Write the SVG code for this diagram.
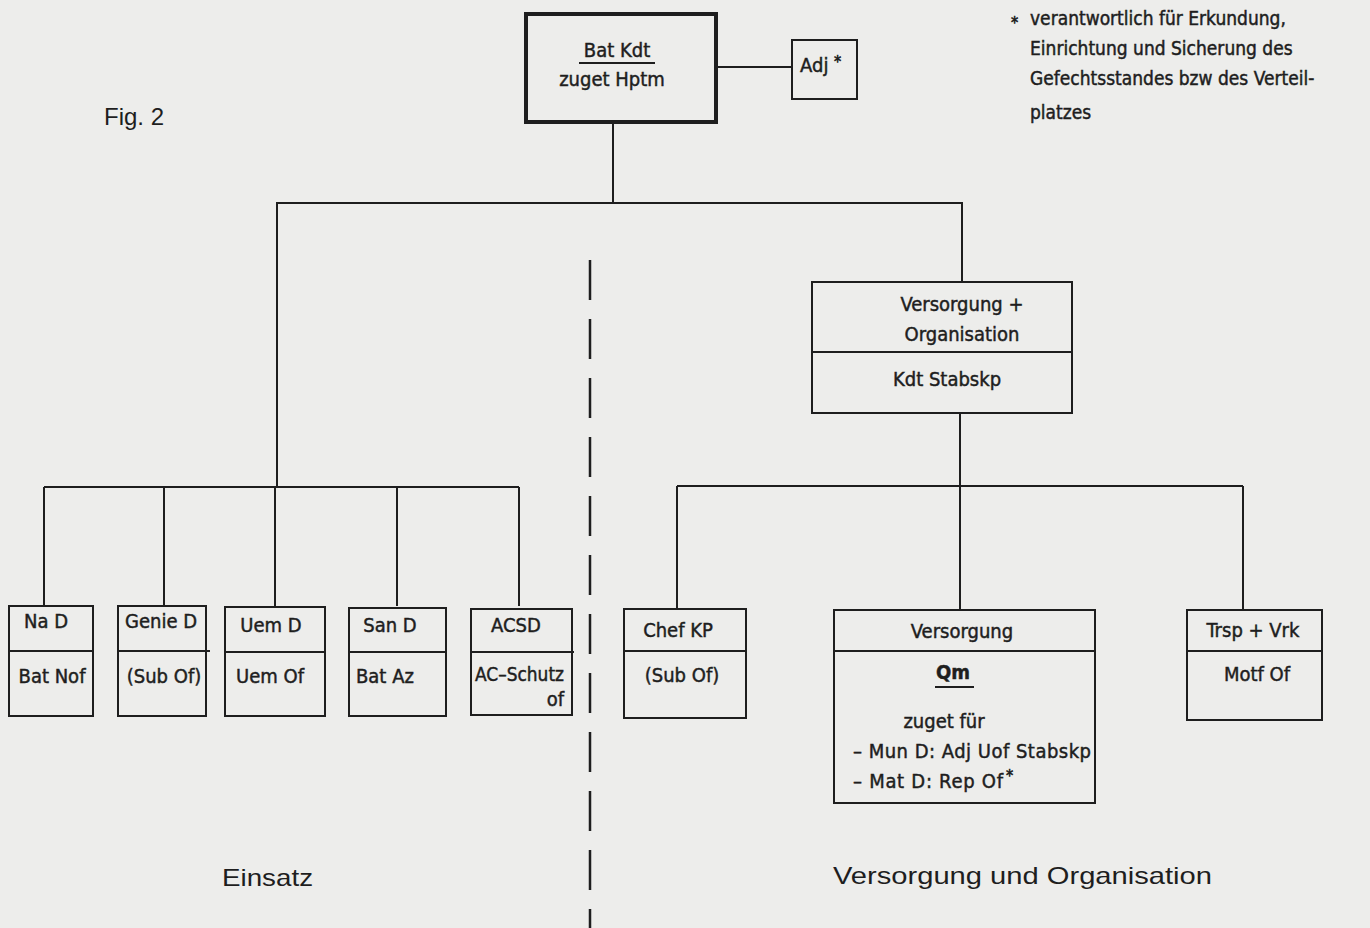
<svg xmlns="http://www.w3.org/2000/svg" width="1370" height="928" viewBox="0 0 1370 928">
<style>
.bx{fill:none;stroke:#1e1e1e;stroke-width:2}
.ln{fill:none;stroke:#1e1e1e;stroke-width:2}
.t{font-family:"DejaVu Sans Condensed","DejaVu Sans",sans-serif;font-stretch:condensed;font-size:20px;fill:#1e1e1e;stroke:#1e1e1e;stroke-width:0.45}
.f{font-size:19px}
.c{text-anchor:middle}
.s{font-size:16px;stroke-width:0.6}
.h{font-family:"Liberation Sans",Arial,sans-serif;font-size:24px;fill:#1e1e1e}
</style>
<rect x="0" y="0" width="1370" height="928" fill="#ededeb"/>
<text class="h" x="104" y="125">Fig. 2</text>
<g id="footnote">
<text class="t s" x="1011" y="28">*</text>
<text class="t f" x="1030" y="25">verantwortlich für Erkundung,</text>
<text class="t f" x="1030" y="55">Einrichtung und Sicherung des</text>
<text class="t f" x="1030" y="85">Gefechtsstandes bzw des Verteil-</text>
<text class="t f" x="1030" y="119">platzes</text>
</g>
<g id="connectors">
<line class="ln" x1="717" y1="67" x2="792" y2="67"/>
<line class="ln" x1="613" y1="123" x2="613" y2="203"/>
<polyline class="ln" points="277,487 277,203 962,203 962,282"/>
<line class="ln" x1="44" y1="487" x2="519" y2="487"/>
<line class="ln" x1="44" y1="487" x2="44" y2="606"/>
<line class="ln" x1="164" y1="487" x2="164" y2="606"/>
<line class="ln" x1="275" y1="487" x2="275" y2="606"/>
<line class="ln" x1="397" y1="487" x2="397" y2="606"/>
<line class="ln" x1="519" y1="487" x2="519" y2="606"/>
<line class="ln" x1="960" y1="413" x2="960" y2="486"/>
<line class="ln" x1="677" y1="486" x2="1243" y2="486"/>
<line class="ln" x1="677" y1="486" x2="677" y2="609"/>
<line class="ln" x1="960" y1="486" x2="960" y2="609"/>
<line class="ln" x1="1243" y1="486" x2="1243" y2="609"/>
<line x1="590" y1="260" x2="590" y2="928" stroke="#1e1e1e" stroke-width="2.5" stroke-dasharray="40 19"/>
</g>
<g id="bat-kdt">
<rect x="526" y="14" width="190" height="108" fill="none" stroke="#1e1e1e" stroke-width="4"/>
<text class="t c" x="617" y="57">Bat Kdt</text>
<line class="ln" x1="579" y1="63" x2="655" y2="63"/>
<text class="t c" x="612" y="86">zuget Hptm</text>
</g>
<g id="adj">
<rect class="bx" x="792" y="40" width="65" height="59"/>
<text class="t" x="800" y="72">Adj</text>
<text class="t s" x="834" y="67">*</text>
</g>
<g id="vo">
<rect class="bx" x="812" y="282" width="260" height="131"/>
<line class="ln" x1="812" y1="352" x2="1072" y2="352"/>
<text class="t c" x="962" y="311">Versorgung +</text>
<text class="t c" x="962" y="341">Organisation</text>
<text class="t c" x="947" y="386">Kdt Stabskp</text>
</g>
<g id="na-d">
<rect class="bx" x="9" y="606" width="84" height="110"/>
<line class="ln" x1="9" y1="651" x2="93" y2="651"/>
<text class="t c" x="46" y="628">Na D</text>
<text class="t c" x="52" y="683">Bat Nof</text>
</g>
<g id="genie-d">
<rect class="bx" x="118" y="606" width="88" height="110"/>
<line class="ln" x1="118" y1="651" x2="210" y2="651"/>
<text class="t c" x="161" y="628">Genie D</text>
<text class="t c" x="164" y="683">(Sub Of)</text>
</g>
<g id="uem-d">
<rect class="bx" x="225" y="607" width="100" height="109"/>
<line class="ln" x1="225" y1="652" x2="325" y2="652"/>
<text class="t c" x="271" y="632">Uem D</text>
<text class="t" x="236" y="683">Uem Of</text>
</g>
<g id="san-d">
<rect class="bx" x="349" y="608" width="97" height="108"/>
<line class="ln" x1="349" y1="652" x2="446" y2="652"/>
<text class="t c" x="390" y="632">San D</text>
<text class="t" x="356" y="683">Bat Az</text>
</g>
<g id="acsd">
<rect class="bx" x="471" y="609" width="101" height="106"/>
<line class="ln" x1="471" y1="652" x2="574" y2="652"/>
<text class="t c" x="516" y="632">ACSD</text>
<text class="t" x="475" y="681" font-size="19" textLength="89" lengthAdjust="spacingAndGlyphs">AC–Schutz</text>
<text class="t" x="564" y="706" font-size="19" text-anchor="end">of</text>
</g>
<g id="chef-kp">
<rect class="bx" x="624" y="609" width="122" height="109"/>
<line class="ln" x1="624" y1="651" x2="746" y2="651"/>
<text class="t c" x="678" y="637">Chef KP</text>
<text class="t c" x="682" y="682">(Sub Of)</text>
</g>
<g id="versorgung">
<rect class="bx" x="834" y="610" width="261" height="193"/>
<line class="ln" x1="834" y1="651" x2="1095" y2="651"/>
<text class="t c" x="962" y="638">Versorgung</text>
<text class="t c" x="953" y="679" font-weight="bold">Qm</text>
<line class="ln" x1="935" y1="687" x2="974" y2="687"/>
<text class="t c" x="944" y="728">zuget für</text>
<text class="t" x="853" y="758" textLength="238" lengthAdjust="spacing">– Mun D: Adj Uof Stabskp</text>
<text class="t" x="853" y="788" textLength="150" lengthAdjust="spacing">– Mat D: Rep Of</text>
<text class="t s" x="1006" y="781">*</text>
</g>
<g id="trsp">
<rect class="bx" x="1187" y="610" width="135" height="110"/>
<line class="ln" x1="1187" y1="651" x2="1322" y2="651"/>
<text class="t c" x="1253" y="637">Trsp + Vrk</text>
<text class="t c" x="1257" y="681">Motf Of</text>
</g>
<text class="h" x="222" y="886" textLength="91" lengthAdjust="spacingAndGlyphs">Einsatz</text>
<text class="h" x="833" y="884" textLength="379" lengthAdjust="spacingAndGlyphs">Versorgung und Organisation</text>
</svg>
